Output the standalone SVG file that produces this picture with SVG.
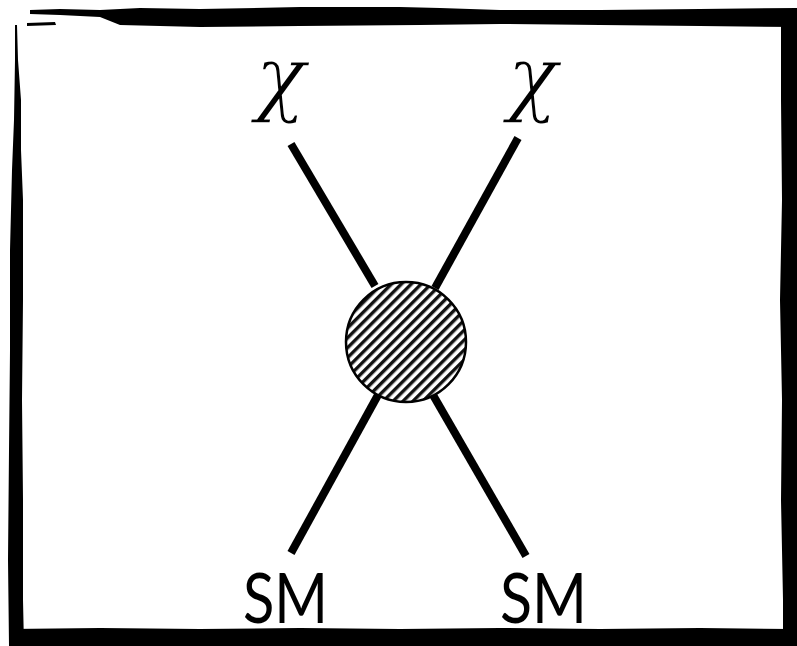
<svg xmlns="http://www.w3.org/2000/svg" width="797" height="646" viewBox="0 0 797 646">
<style>
.leg{stroke:#000;stroke-width:8;fill:none;stroke-linecap:butt}
.chi{font-family:"DejaVu Serif","Liberation Serif",serif;font-style:italic;font-size:84px;fill:#000;stroke:#fff;stroke-width:1.7}
.sm{font-family:Lato,"Liberation Sans",sans-serif;font-size:69px;fill:#000}
.brush{fill:#000}
</style>
<defs>
<pattern id="hatch" patternUnits="userSpaceOnUse" width="7" height="7" patternTransform="rotate(45)">
<rect width="7" height="7" fill="#fff"/>
<rect x="0" y="0" width="3.4" height="7" fill="#111"/>
</pattern>
</defs>
<rect width="797" height="646" fill="#fff"/>
<g id="frame">
<path class="brush" d="M30,10 L60,9 L100,10 L140,8 L200,9 L300,7 L400,7 L440,8 L500,10 L600,10 L700,9 L797,8 L797,27 L700,26 L600,25 L500,24 L420,25 L300,26 L200,27 L120,25 L100,17 L60,15 L30,14 Z"/>
<path class="brush" d="M27,23 L55,22 L56,25 L27,26 Z"/>
<path class="brush" d="M781,12 L797,10 L797,646 L783,646 L783,600 L781,500 L782,400 L780,300 L782,200 L781,100 Z"/>
<path class="brush" d="M10,629 L100,628 L200,629 L300,628 L400,629 L500,628 L600,629 L700,628 L790,629 L797,627 L797,646 L10,646 Z"/>
<path class="brush" d="M15,25 L17,25 L18,60 L21,100 L21,150 L23,200 L23,300 L22,400 L23,500 L23,600 L24,646 L9,646 L8,560 L9,450 L10,350 L10,250 L12,170 L14,120 L15,60 Z"/>
</g>
<g id="connectors">
<line class="leg" x1="291" y1="144" x2="375" y2="286"/>
<line class="leg" x1="518" y1="138" x2="435" y2="288"/>
<line class="leg" x1="378" y1="395" x2="291" y2="553"/>
<line class="leg" x1="433" y1="395" x2="526" y2="556"/>
</g>
<g id="vertex">
<circle cx="406" cy="342" r="60" fill="url(#hatch)" stroke="#000" stroke-width="2.5"/>
</g>
<g id="chi1"><text class="chi" x="255" y="105">χ</text></g>
<g id="chi2"><text class="chi" x="507" y="105">χ</text></g>
<g id="sm1"><text class="sm" x="243" y="623" textLength="85" lengthAdjust="spacingAndGlyphs">SM</text></g>
<g id="sm2"><text class="sm" x="500" y="623" textLength="87" lengthAdjust="spacingAndGlyphs">SM</text></g>
</svg>
